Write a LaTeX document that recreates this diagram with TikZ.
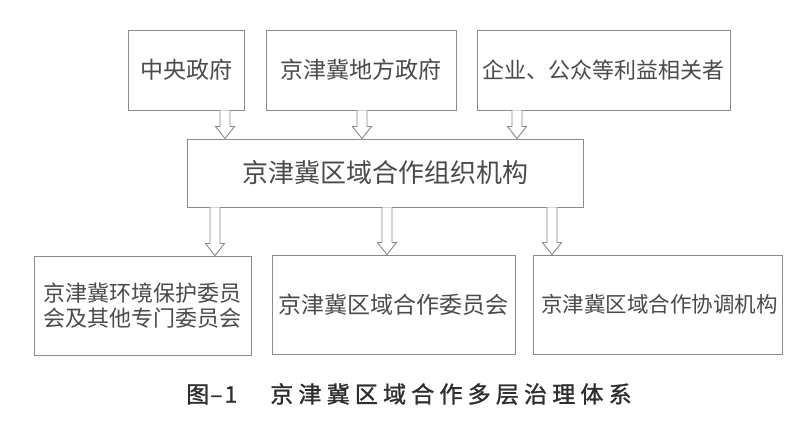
\documentclass[tikz,border=0pt]{standalone}
\usepackage{fontspec}
\setmainfont{Noto Sans CJK SC}
\newfontfamily\capfont[LetterSpace=22.6,FakeBold=1.2]{Noto Sans CJK SC}
\newfontfamily\capfontb[FakeBold=1.2]{Noto Sans CJK SC}
\usetikzlibrary{calc}
\definecolor{boxline}{HTML}{8A8A8A}
\definecolor{txt}{HTML}{4A4A4A}
\tikzset{
  box/.style={draw=boxline, line width=0.9pt, fill=white, inner sep=0pt, text=txt, anchor=center},
  harrow/.style={draw=boxline, line width=0.9pt, fill=white, line join=miter}
}
\newcommand\hollowarrow[2]{%
  \draw[harrow] let \p1=(#1), \p2=(#2) in
    (\x1-5pt,\y1) -- (\x1-5pt,\y2+12pt) -- (\x1-9.5pt,\y2+12pt) -- (\x1,\y2)
    -- (\x1+9.5pt,\y2+12pt) -- (\x1+5pt,\y2+12pt) -- (\x1+5pt,\y1);}
\begin{document}
\begin{tikzpicture}[x=1pt,y=-1pt]
\useasboundingbox[fill=white] (0,0) rectangle (800,427);
% top row
\node[box, minimum width=116pt, minimum height=80pt, font=\fontsize{23}{26}\selectfont] (top1) at (186,70) {中央政府};
\node[box, minimum width=190pt, minimum height=80pt, font=\fontsize{23}{26}\selectfont] (top2) at (361,70) {京津冀地方政府};
\node[box, minimum width=253pt, minimum height=80pt, font=\fontsize{22}{26}\selectfont] (top3) at (603.5,70) {企业、公众等利益相关者};
% middle
\node[box, minimum width=396pt, minimum height=68pt, font=\fontsize{26}{30}\selectfont] (mid) at (385,173) {京津冀区域合作组织机构};
% bottom row
\node[box, minimum width=217pt, minimum height=99pt, align=center, font=\fontsize{22}{24.5}\selectfont] (bot1) at (142.5,305.5) {京津冀环境保护委员\\会及其他专门委员会};
\node[box, minimum width=243pt, minimum height=99pt, font=\fontsize{23}{27}\selectfont] (bot2) at (393.5,304.5) {京津冀区域合作委员会};
\node[box, minimum width=249pt, minimum height=99pt, font=\fontsize{21.5}{25}\selectfont] (bot3) at (657.5,304.5) {\hspace{4pt}京津冀区域合作协调机构};
% arrow columns
\coordinate (ax1) at (225,0);
\coordinate (ax2) at (362,0);
\coordinate (ax3) at (517,0);
\coordinate (bx1) at (215,0);
\coordinate (bx2) at (387,0);
\coordinate (bx3) at (552,0);
\hollowarrow{top1.south -| ax1}{mid.north -| ax1}
\hollowarrow{top2.south -| ax2}{mid.north -| ax2}
\hollowarrow{top3.south -| ax3}{mid.north -| ax3}
\hollowarrow{mid.south -| bx1}{bot1.north -| bx1}
\hollowarrow{mid.south -| bx2}{bot2.north -| bx2}
\hollowarrow{mid.south -| bx3}{bot3.north -| bx3}
% caption
\node[anchor=west, text=black!82, inner sep=0pt, font=\fontsize{23}{26}\selectfont] (cap) at (186,394) {\capfontb 图\hspace{1pt}–\hspace{2pt}1\hspace{33pt}{\capfont 京津冀区域合作多层治理体系}};
\end{tikzpicture}
\end{document}
